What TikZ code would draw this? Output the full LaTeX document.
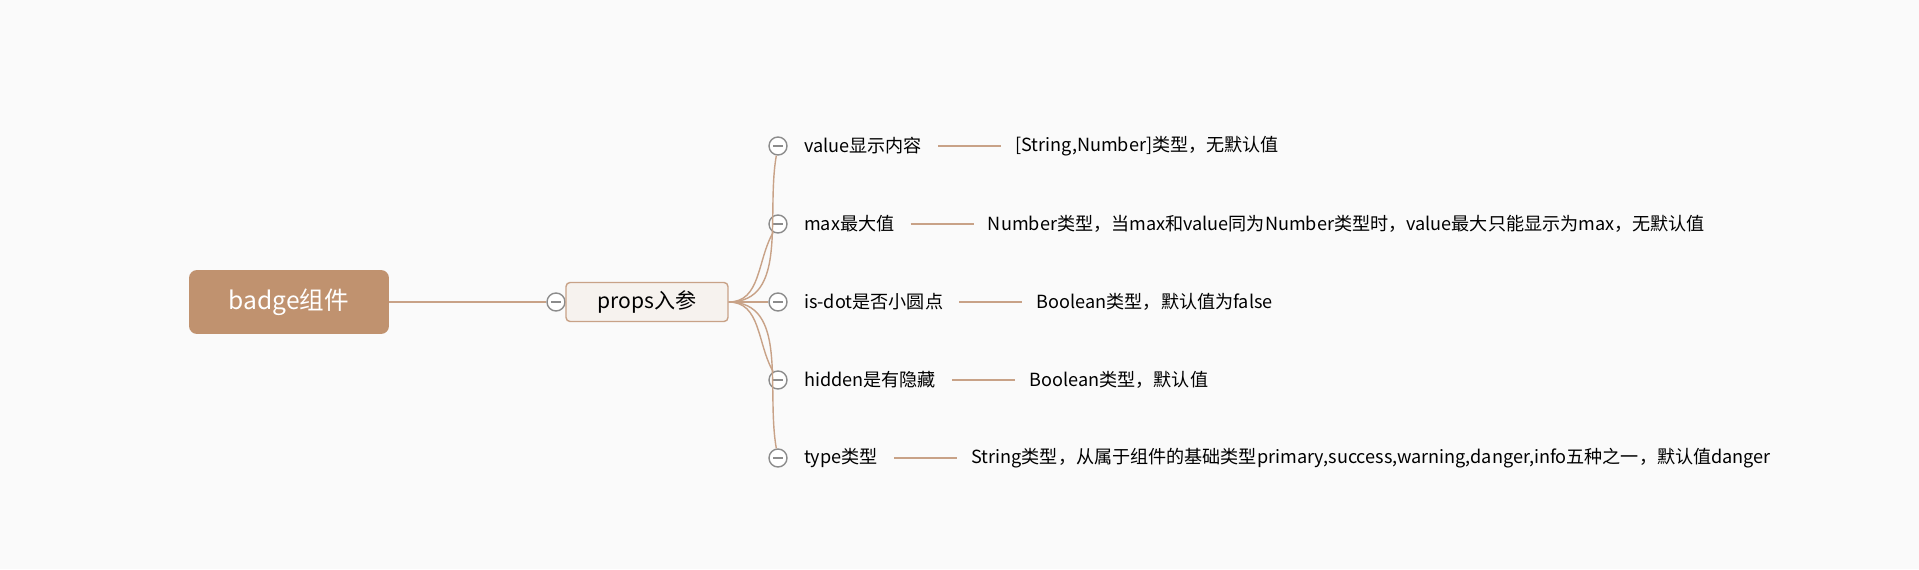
\documentclass[tikz,border=0pt]{standalone}
\usepackage{fontspec}
\setmainfont{Noto Sans CJK SC}
\usetikzlibrary{positioning}
\definecolor{bg}{HTML}{FAFAFA}
\definecolor{rootbrown}{HTML}{C0926F}
\definecolor{linebrown}{HTML}{C8A287}
\definecolor{propsfill}{HTML}{F6F2EE}
\definecolor{foldgray}{HTML}{8C8C8C}
\begin{document}
\begin{tikzpicture}[x=0.02cm, y=0.02cm,
  rootbox/.style={rectangle, rounded corners=0.16cm, fill=rootbrown, text=white,
    minimum width=4cm, minimum height=1.28cm, font=\fontsize{14}{16}\selectfont},
  propsbox/.style={rectangle, rounded corners=0.08cm, draw=linebrown, line width=0.8pt,
    fill=propsfill, minimum width=3.24cm, minimum height=0.78cm,
    font=\fontsize{12}{14}\selectfont},
  fold/.style={circle, draw=foldgray, line width=0.8pt, fill=white, inner sep=0pt,
    minimum size=0.36cm,
    path picture={\draw[foldgray, line width=0.8pt]
      ([xshift=2.5pt]path picture bounding box.west) --
      ([xshift=-2.5pt]path picture bounding box.east);}},
  item/.style={inner xsep=0.32cm, inner ysep=2pt, font=\fontsize{10.3}{12}\selectfont},
  desc/.style={inner xsep=0.28cm, inner ysep=2pt, font=\fontsize{10.3}{12}\selectfont},
  branch/.style={draw=linebrown, line width=0.8pt}]
\fill[bg] (0,0) rectangle (1919,569);
\useasboundingbox (0,0) rectangle (1919,569);

% root and props
\node[rootbox] (badge) at (289,267) {badge组件};
\node[fold] (f0) at (556,267) {};
\node[propsbox] (props) at (647,267) {props入参};
\draw[branch] (badge.east) -- (f0.west);

% fold buttons of the children
\node[fold] (f1) at (778,423) {};
\node[fold] (f2) at (778,345) {};
\node[fold] (f3) at (778,267) {};
\node[fold] (f4) at (778,189) {};
\node[fold] (f5) at (778,111) {};

\draw[branch] (props.east) to[out=0, in=-100] (f1.-100);
\draw[branch] (props.east) to[out=0, in=-120] (f2.-120);
\draw[branch] (props.east) -- (f3.west);
\draw[branch] (props.east) to[out=0, in=120] (f4.120);
\draw[branch] (props.east) to[out=0, in=100] (f5.100);

% children
\node[item, right=0pt of f1] (value) {value显示内容};
\node[item, right=0pt of f2] (max) {max最大值};
\node[item, right=0pt of f3] (isdot) {is-dot是否小圆点};
\node[item, right=0pt of f4] (hidden) {hidden是有隐藏};
\node[item, right=0pt of f5] (type) {type类型};

% descriptions
\node[desc, right=1.26cm of value] (valuedesc) {[String,Number]类型，无默认值};
\node[desc, right=1.26cm of max] (maxdesc) {Number类型，当max和value同为Number类型时，value最大只能显示为max，无默认值};
\node[desc, right=1.26cm of isdot] (isdotdesc) {Boolean类型，默认值为false};
\node[desc, right=1.26cm of hidden] (hiddendesc) {Boolean类型，默认值};
\node[desc, right=1.26cm of type] (typedesc) {String类型，从属于组件的基础类型primary,success,warning,danger,info五种之一，默认值danger};

\draw[branch, line width=0.6pt] (value.east) -- (valuedesc.west);
\draw[branch, line width=0.6pt] (max.east) -- (maxdesc.west);
\draw[branch, line width=0.6pt] (isdot.east) -- (isdotdesc.west);
\draw[branch, line width=0.6pt] (hidden.east) -- (hiddendesc.west);
\draw[branch, line width=0.6pt] (type.east) -- (typedesc.west);
\end{tikzpicture}
\end{document}
